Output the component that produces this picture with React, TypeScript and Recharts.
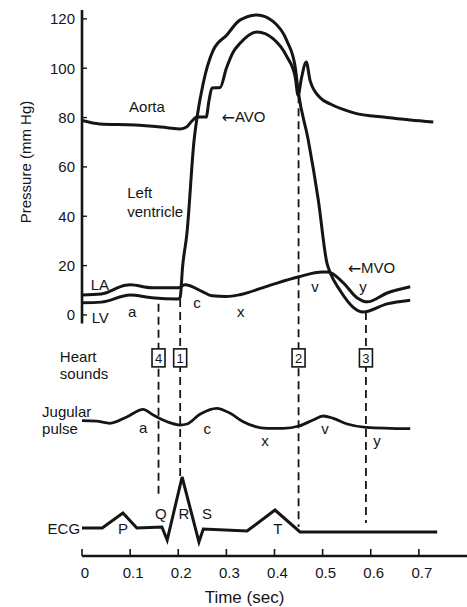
import React from 'react';
import { ComposedChart, Line, XAxis, YAxis, ReferenceLine, ReferenceDot } from 'recharts';

const FONT = "Arial, 'Liberation Sans', Helvetica, sans-serif";
const ARROW_FONT = "'DejaVu Sans', sans-serif";
const INK = '#151515';

// ---- data ----
const TIME_TICKS = [0, 0.1, 0.2, 0.3, 0.4, 0.5, 0.6, 0.7];
const PRESSURE_TICKS = [0, 20, 40, 60, 80, 100, 120];

// [time (s), pressure (mm Hg)]
const AORTA: [number, number][] = [
  [0, 78.8], [0.037, 77.4], [0.11, 77], [0.177, 75.9], [0.204, 75.4], [0.218, 76.3],
  [0.228, 78.5], [0.239, 80.2], [0.258, 80.2], [0.264, 87], [0.27, 92], [0.287, 92.2],
  [0.3, 100], [0.314, 106.5], [0.328, 110], [0.364, 114.7], [0.397, 112], [0.426, 104.6],
  [0.443, 96.5], [0.449, 89], [0.456, 96], [0.466, 102.5], [0.474, 95], [0.495, 88],
  [0.516, 85.5], [0.54, 83.5], [0.563, 82], [0.634, 80], [0.682, 79], [0.73, 78.2],
];

const LEFT_VENTRICLE: [number, number][] = [
  [0, 4.9], [0.04, 5.2], [0.1, 8.1], [0.145, 7.0], [0.2, 6.5], [0.204, 7.2], [0.209, 19.5],
  [0.218, 33], [0.233, 71], [0.239, 80], [0.252, 94], [0.272, 107], [0.301, 113.5],
  [0.328, 119.5], [0.364, 121.6], [0.397, 119], [0.426, 111], [0.443, 100.5], [0.449, 91],
  [0.47, 71], [0.491, 46.6], [0.509, 21], [0.516, 17], [0.536, 10], [0.563, 3.2],
  [0.584, 1.2], [0.634, 4.5], [0.682, 6],
];

const LEFT_ATRIUM: [number, number][] = [
  [0, 8.1], [0.04, 8.5], [0.09, 12], [0.1, 12.2], [0.145, 11], [0.2, 11], [0.214, 12.2],
  [0.25, 9.5], [0.27, 7.8], [0.3, 7.5], [0.328, 8.2], [0.39, 12], [0.449, 15.4],
  [0.5, 17.4], [0.511, 17.4], [0.543, 13], [0.572, 6.9], [0.593, 5.3], [0.634, 8.9],
  [0.682, 11.4],
];

// [time (s), deflection (arbitrary units)]
const JUGULAR: [number, number][] = [
  [0, 9.3], [0.03, 8.8], [0.058, 6.7], [0.094, 13.3], [0.127, 20.7], [0.148, 15],
  [0.177, 8.3], [0.204, 5], [0.218, 6], [0.245, 15.7], [0.28, 21.7], [0.308, 16.7],
  [0.335, 8.3], [0.385, 1.7], [0.418, 1.7], [0.451, 4], [0.48, 10], [0.501, 14],
  [0.522, 11.7], [0.551, 6], [0.59, 2.7], [0.682, 1.3],
];

// [time (s), mV]
const ECG: [number, number][] = [
  [0, 0], [0.042, 0], [0.085, 0.3], [0.114, 0], [0.166, 0.02], [0.177, -0.24],
  [0.208, 1.02], [0.243, -0.28], [0.252, -0.02], [0.343, -0.06], [0.401, 0.36],
  [0.453, -0.08], [0.738, -0.08],
];

// heart sounds: time, label, top of marker (mm Hg), bottom of marker (ECG mV)
const HEART_SOUNDS = [
  { t: 0.159, sound: '4', fromP: 4.5, toMV: 0.62 },
  { t: 0.204, sound: '1', fromP: 6.5, toMV: 1.0 },
  { t: 0.45, sound: '2', fromP: 89, toMV: 0.02 },
  { t: 0.59, sound: '3', fromP: 1.2, toMV: 0.1 },
];

const PRESSURE_NOTES = [
  { t: 0.135, v: 84.3, text: 'Aorta', anchor: 'middle' },
  { t: 0.094, v: 49.5, text: 'Left', anchor: 'start' },
  { t: 0.094, v: 41.8, text: 'ventricle', anchor: 'start' },
  { t: 0.018, v: 12.2, text: 'LA', anchor: 'start' },
  { t: 0.02, v: -1.2, text: 'LV', anchor: 'start' },
  { t: 0.104, v: 1.2, text: 'a', anchor: 'middle' },
  { t: 0.239, v: 4.9, text: 'c', anchor: 'middle' },
  { t: 0.33, v: 1.2, text: 'x', anchor: 'middle' },
  { t: 0.484, v: 11.4, text: 'v', anchor: 'middle' },
  { t: 0.584, v: 11.4, text: 'y', anchor: 'middle' },
  { t: -0.046, v: -17, text: 'Heart', anchor: 'start' },
  { t: -0.046, v: -23.9, text: 'sounds', anchor: 'start' },
];

const ARROW_NOTES = [
  { t: 0.29, v: 80.3, text: 'AVO' },
  { t: 0.552, v: 19.1, text: 'MVO' },
];

const JUGULAR_NOTES = [
  { t: -0.083, v: 19, text: 'Jugular', anchor: 'start' },
  { t: -0.083, v: 2, text: 'pulse', anchor: 'start' },
  { t: 0.127, v: 3, text: 'a', anchor: 'middle' },
  { t: 0.26, v: 2, text: 'c', anchor: 'middle' },
  { t: 0.38, v: -10, text: 'x', anchor: 'middle' },
  { t: 0.505, v: 2, text: 'v', anchor: 'middle' },
  { t: 0.613, v: -10, text: 'y', anchor: 'middle' },
];

const ECG_NOTES = [
  { t: -0.004, v: 0, text: 'ECG', anchor: 'end' },
  { t: 0.085, v: 0, text: 'P', anchor: 'middle' },
  { t: 0.164, v: 0.3, text: 'Q', anchor: 'middle' },
  { t: 0.212, v: 0.3, text: 'R', anchor: 'middle' },
  { t: 0.26, v: 0.3, text: 'S', anchor: 'middle' },
  { t: 0.407, v: 0, text: 'T', anchor: 'middle' },
];

// ---- layout (band placement of each trace) ----
const Y_AXIS_WIDTH = 82;
const X_DOMAIN: [number, number] = [0, 0.8];
const P_DOMAIN: [number, number] = [-97.7, 123.6];
const JUG_DOMAIN: [number, number] = [-126, 420];
const ECG_DOMAIN: [number, number] = [-0.56, 10.36];
const HEART_ROW = -17.4;
const P_AXIS_EXTENT: [number, number] = [-3.5, 123.6];
const P_LABEL_POS = { t: -0.118, v: 62 };

const ecgToP = (mv: number) =>
  P_DOMAIN[1] - ((ECG_DOMAIN[1] - mv) / (ECG_DOMAIN[1] - ECG_DOMAIN[0])) * (P_DOMAIN[1] - P_DOMAIN[0]);

const toPoints = (pairs: [number, number][]) => pairs.map(([t, v]) => ({ t, v }));

const noteShape = (text: string, anchor: string, size = 15, rotate = 0) => (props: any) => (
  <text
    x={props.cx}
    y={props.cy}
    textAnchor={anchor as any}
    dominantBaseline="central"
    fontFamily={FONT}
    fontSize={size}
    fill={INK}
    transform={rotate ? `rotate(${rotate} ${props.cx} ${props.cy})` : undefined}
  >
    {text}
  </text>
);

const arrowShape = (text: string) => (props: any) => (
  <text x={props.cx} y={props.cy} textAnchor="start" dominantBaseline="central" fontFamily={FONT} fontSize={15} fill={INK}>
    <tspan fontFamily={ARROW_FONT} fontSize={16}>←</tspan>
    {text}
  </text>
);

const boxShape = (label: string) => (props: any) => (
  <g>
    <rect x={props.cx - 6.5} y={props.cy - 9} width={13} height={18} fill="#fff" stroke={INK} strokeWidth={1.6} />
    <text x={props.cx} y={props.cy + 0.5} textAnchor="middle" dominantBaseline="central" fontFamily={FONT} fontSize={13} fill={INK}>
      {label}
    </text>
  </g>
);

const PressureTick = (props: any) => {
  const { y, payload } = props;
  const axisX = Y_AXIS_WIDTH;
  return (
    <g>
      <line x1={axisX} x2={axisX + 5} y1={y} y2={y} stroke={INK} strokeWidth={1.4} />
      <text x={axisX - 7} y={y} textAnchor="end" dominantBaseline="central" fontFamily={FONT} fontSize={15} fill={INK}>
        {payload.value}
      </text>
    </g>
  );
};

const TimeTick = (props: any) => {
  const { x, y, payload } = props;
  const axisY = y - 8;
  return (
    <g>
      <line x1={x} x2={x} y1={axisY - 7} y2={axisY} stroke={INK} strokeWidth={1.6} />
      <text x={x + 3} y={axisY + 16} textAnchor="middle" dominantBaseline="central" fontFamily={FONT} fontSize={15} fill={INK}>
        {String(payload.value)}
      </text>
    </g>
  );
};

export default function App() {
  return (
    <div style={{ position: 'absolute', left: 0, top: 0, width: 467, height: 607, background: '#fff' }}>
      <ComposedChart width={467} height={607} margin={{ top: 10, right: 0, bottom: 0, left: 0 }}>
        <XAxis
          type="number"
          dataKey="t"
          domain={X_DOMAIN}
          allowDataOverflow
          ticks={TIME_TICKS}
          height={51}
          tickLine={false}
          tickSize={0}
          tickMargin={8}
          tick={<TimeTick />}
          axisLine={{ stroke: INK, strokeWidth: 2.5 }}
          label={{ value: 'Time (sec)', position: 'insideBottom', offset: 4, dx: -30, fontSize: 17, fill: INK, fontFamily: FONT }}
        />
        <YAxis
          yAxisId="p"
          type="number"
          domain={P_DOMAIN}
          allowDataOverflow
          ticks={PRESSURE_TICKS}
          width={Y_AXIS_WIDTH}
          axisLine={false}
          tickLine={false}
          tickSize={0}
          tickMargin={6}
          tick={<PressureTick />}
        />
        <YAxis yAxisId="jug" type="number" domain={JUG_DOMAIN} allowDataOverflow hide />
        <YAxis yAxisId="ecg" type="number" domain={ECG_DOMAIN} allowDataOverflow hide />

        <ReferenceLine
          yAxisId="p"
          segment={[{ x: 0, y: P_AXIS_EXTENT[0] }, { x: 0, y: P_AXIS_EXTENT[1] }]}
          stroke={INK}
          strokeWidth={2.6}
        />

        {HEART_SOUNDS.map((e) => (
          <ReferenceLine
            key={'d' + e.sound}
            yAxisId="p"
            segment={[{ x: e.t, y: e.fromP }, { x: e.t, y: ecgToP(e.toMV) }]}
            stroke={INK}
            strokeWidth={1.8}
            strokeDasharray="8 5"
          />
        ))}

        <Line data={toPoints(AORTA)} dataKey="v" yAxisId="p" type="monotone" stroke={INK} strokeWidth={3} dot={false} activeDot={false} isAnimationActive={false} />
        <Line data={toPoints(LEFT_VENTRICLE)} dataKey="v" yAxisId="p" type="monotone" stroke={INK} strokeWidth={3} dot={false} activeDot={false} isAnimationActive={false} />
        <Line data={toPoints(LEFT_ATRIUM)} dataKey="v" yAxisId="p" type="monotone" stroke={INK} strokeWidth={3} dot={false} activeDot={false} isAnimationActive={false} />
        <Line data={toPoints(JUGULAR)} dataKey="v" yAxisId="jug" type="monotone" stroke={INK} strokeWidth={2.8} dot={false} activeDot={false} isAnimationActive={false} />
        <Line data={toPoints(ECG)} dataKey="v" yAxisId="ecg" type="linear" stroke={INK} strokeWidth={3} dot={false} activeDot={false} isAnimationActive={false} />

        {HEART_SOUNDS.map((e) => (
          <ReferenceDot key={'b' + e.sound} yAxisId="p" x={e.t} y={HEART_ROW} r={1} ifOverflow="visible" shape={boxShape(e.sound)} />
        ))}

        {PRESSURE_NOTES.map((n, i) => (
          <ReferenceDot key={'pn' + i} yAxisId="p" x={n.t} y={n.v} r={1} ifOverflow="visible" shape={noteShape(n.text, n.anchor)} />
        ))}
        {ARROW_NOTES.map((n, i) => (
          <ReferenceDot key={'an' + i} yAxisId="p" x={n.t} y={n.v} r={1} ifOverflow="visible" shape={arrowShape(n.text)} />
        ))}
        {JUGULAR_NOTES.map((n, i) => (
          <ReferenceDot key={'jn' + i} yAxisId="jug" x={n.t} y={n.v} r={1} ifOverflow="visible" shape={noteShape(n.text, n.anchor)} />
        ))}
        {ECG_NOTES.map((n, i) => (
          <ReferenceDot key={'en' + i} yAxisId="ecg" x={n.t} y={n.v} r={1} ifOverflow="visible" shape={noteShape(n.text, n.anchor)} />
        ))}
        <ReferenceDot
          yAxisId="p"
          x={P_LABEL_POS.t}
          y={P_LABEL_POS.v}
          r={1}
          ifOverflow="visible"
          shape={noteShape('Pressure (mm Hg)', 'middle', 15, -90)}
        />
      </ComposedChart>
    </div>
  );
}
